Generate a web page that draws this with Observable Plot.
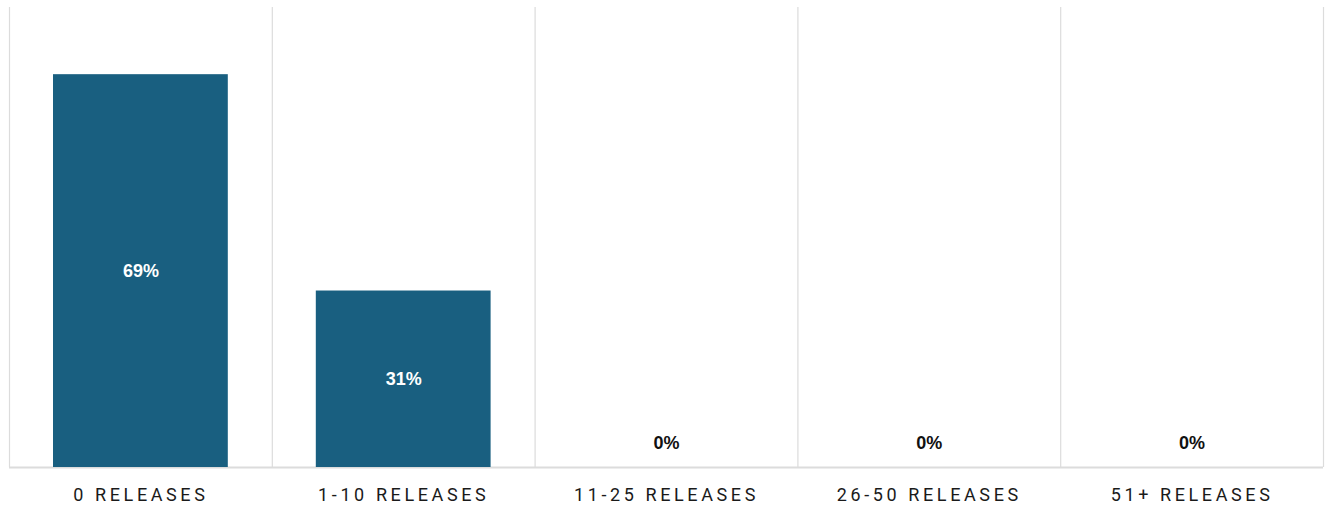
<!DOCTYPE html>
<html>
<head>
<meta charset="utf-8">
<script src="https://cdn.jsdelivr.net/npm/d3@7"></script>
<script src="https://cdn.jsdelivr.net/npm/@observablehq/plot@0.6"></script>
<style>
  html, body { margin: 0; padding: 0; background: #fff; }
  #chart svg { display: block; }
  #chart [aria-label="x-axis tick label"] text { letter-spacing: 3.6px; }
</style>
</head>
<body>
<div id="chart"></div>
<script>
const categories = ["0 RELEASES", "1-10 RELEASES", "11-25 RELEASES", "26-50 RELEASES", "51+ RELEASES"];
const values = [69, 31, 0, 0, 0];

const data = categories.map((c, i) => ({category: c, i, value: values[i]}));
const bounds = d3.range(categories.length + 1);
const barColor = "#195f80";

const chart = Plot.plot({
  width: 1325,
  height: 508,
  marginLeft: 9,
  marginRight: 2,
  marginTop: 7,
  marginBottom: 41,
  x: {domain: [0, categories.length], axis: null},
  y: {domain: [0, 80.8], axis: null},
  marks: [
    Plot.ruleX(bounds, {stroke: "#dcdcdc", strokeWidth: 1.2}),
    Plot.ruleY([0], {stroke: "#dcdcdc", strokeWidth: 2}),
    Plot.rectY(data, {x1: "i", x2: d => d.i + 1, y: "value", fill: barColor, insetLeft: 44, insetRight: 44}),
    Plot.text(data.filter(d => d.value > 5), {
      x: d => d.i + 0.5, y: d => d.value / 2, text: d => d.value + "%",
      fill: "#ffffff", fontSize: 18, fontWeight: "bold", fontFamily: "Liberation Sans, Arial, sans-serif"
    }),
    Plot.text(data.filter(d => d.value <= 5), {
      x: d => d.i + 0.5, y: "value", text: d => d.value + "%", dy: -24,
      fill: "#111111", fontSize: 18, fontWeight: "bold", fontFamily: "Liberation Sans, Arial, sans-serif"
    }),
    Plot.axisX(categories.map((c, i) => i + 0.5), {
      tickSize: 0, tickPadding: 21, tickFormat: (d, k) => categories[k],
      fontSize: 18, fontFamily: "Roboto, sans-serif", fill: "#1a1a1a", label: null
    })
  ]
});
document.getElementById("chart").appendChild(chart);
</script>
</body>
</html>
